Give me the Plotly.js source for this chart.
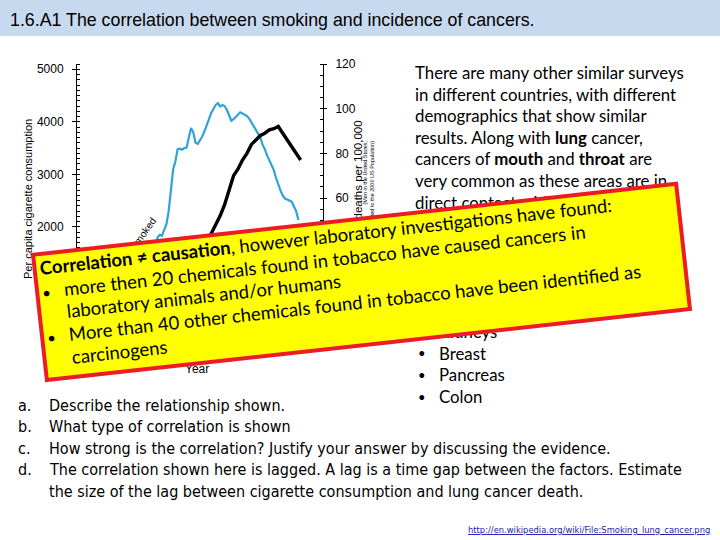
<!DOCTYPE html>
<html><head><meta charset="utf-8">
<script src="https://cdn.plot.ly/plotly-3.0.1.min.js"></script>
<style>html,body{margin:0;padding:0;background:#fff}#chart{width:720px;height:540px}</style>
</head><body><div id="chart"></div>
<script>
// ---- data ----
const cigYears = [1900,1905,1910,1915,1920,1925,1930,1935,1936,1937,1938,1939,1940,1941,1942,1943,1944,1945,1946,1947,1948,1949,1950,1951,1952,1953,1954,1955,1956,1957,1958,1959,1960,1961,1962,1963,1964,1965,1966,1967,1968,1969,1970,1971,1972,1973,1974,1975,1976,1977,1978,1979,1980,1981,1982,1983,1984,1985,1986,1987,1988,1989,1990,1991,1992,1993,1994,1995,1996,1997,1998,1999];
const cigValues = [54,70,151,285,665,1085,1485,1564,1800,1850,1830,1950,2050,2300,2700,3100,3250,3480,3490,3470,3500,3510,3700,3880,3800,3600,3580,3640,3720,3820,3920,4050,4170,4250,4320,4355,4290,4320,4300,4230,4120,4020,4050,4100,4130,4180,4160,4140,4110,4060,3990,3920,3850,3790,3700,3560,3480,3360,3260,3180,3080,2930,2800,2690,2600,2540,2520,2505,2480,2390,2300,2130];
const deathYears = [1930,1935,1940,1945,1950,1955,1960,1962,1964,1966,1968,1970,1972,1974,1976,1978,1980,1982,1984,1986,1988,1990,1992,1994,1996,1998,2000];
const deathValues = [5,8,13,19,27,36,44,48,52,57,64,70,73,77,80,84,86,88,89,90.5,91,92,89,86,83,80,77];

const leftTicks = [0,1000,2000,3000,4000,5000];
const rightTicks = [0,20,40,60,80,100,120];
const xTicks = [1900,1920,1940,1960,1980,2000];

const titleText = '1.6.A1 The correlation between smoking and incidence of cancers.';
const leftAxisTitle = 'Per capita cigarette consumption';
const rightAxisTitle = 'Lung cancer deaths per 100,000';
const rightAxisNote = '(Men in the United States,<br>Age-adjusted to the 2000 US Population)';
const xAxisTitle = 'Year';
const cigLabel = 'Cigarettes smoked';

const rightLines = [
  'There are many other similar surveys',
  'in different countries, with different',
  'demographics that show similar',
  'results. Along with <b>lung</b> cancer,',
  'cancers of <b>mouth</b> and <b>throat</b> are',
  'very common as these areas are in',
  'direct contact with the smoke.',
  'Smoking has also been linked to',
  'other types of cancer, including:',
  '• Stomach',
  '• Liver',
  '• Bladder',
  '• Kidneys',
  '• Breast',
  '• Pancreas',
  '• Colon'
];

const qLetters = ['a.','b.','c.','d.',''];
const qLines = [
  'Describe the relationship shown.',
  'What type of correlation is shown',
  'How strong is the correlation? Justify your answer by discussing the evidence.',
  'The correlation shown here is lagged. A lag is a time gap between the factors. Estimate',
  'the size of the lag between cigarette consumption and lung cancer death.'
];

const boxBullets = ['', '•', '', '•', ''];
const boxLines = [
  '<b>Correlation ≠ causation</b>, however laboratory investigations have found:',
  'more then 20 chemicals found in tobacco have caused cancers in',
  'laboratory animals and/or humans',
  'More than 40 other chemicals found in tobacco have been identified as',
  'carcinogens'
];

const urlText = 'http://en.wikipedia.org/wiki/File:Smoking_lung_cancer.png';

// ---- helpers (pixel -> paper) ----
const W = 720, H = 540;
function P(px, py) { return {x: px / W, y: 1 - py / H, xref: 'paper', yref: 'paper'}; }
function ann(px, py, text, opts) {
  return Object.assign(P(px, py), {text: text, showarrow: false, xanchor: 'center', yanchor: 'middle'}, opts || {});
}

const chartFont = 'Liberation Sans, Arial, sans-serif';
const slideFont = 'Lato, Carlito, Calibri, sans-serif';
const narrowFont = 'Liberation Sans Narrow, DejaVu Sans Condensed, Lato, sans-serif';

const plotLeft = 77, plotRight = 323, plotTop = 64, plotBottom = 332;

const traces = [
  {x: cigYears, y: cigValues, type: 'scatter', mode: 'lines', line: {color: '#2FA3D8', width: 2.2}, yaxis: 'y', hoverinfo: 'skip'},
  {x: deathYears, y: deathValues, type: 'scatter', mode: 'lines', line: {color: '#000000', width: 3.4}, yaxis: 'y2', hoverinfo: 'skip'}
];

const annotations = [];
annotations.push(ann(8, 20, titleText, {xanchor: 'left', font: {family: chartFont, size: 17.8, color: '#000'}}));
annotations.push(ann(28, 199, leftAxisTitle, {textangle: -90, font: {family: chartFont, size: 11, color: '#000'}}));
annotations.push(ann(358, 118, rightAxisTitle, {textangle: -90, yanchor: 'top', font: {family: chartFont, size: 11.5, color: '#000'}}));
annotations.push(ann(368, 139, rightAxisNote, {textangle: -90, yanchor: 'top', align: 'right', font: {family: chartFont, size: 5.5, color: '#000'}}));
annotations.push(ann(197, 369, xAxisTitle, {font: {family: chartFont, size: 12, color: '#000'}}));
annotations.push(ann(129, 253, cigLabel, {textangle: -55, font: {family: chartFont, size: 10, color: '#000'}}));

// right column text
const rcFont = {family: slideFont, size: 16.8, color: '#000'};
const rcBulletFont = {family: slideFont, size: 13, color: '#000'};
rightLines.forEach(function (t, i) {
  const y = 72.5 + i * 21.6;
  if (t.indexOf('• ') === 0) {
    annotations.push(ann(416, y, '•', {xanchor: 'left', font: rcBulletFont}));
    annotations.push(ann(437, y, t.slice(2), {xanchor: 'left', font: rcFont}));
  } else {
    annotations.push(ann(413, y, t, {xanchor: 'left', font: rcFont}));
  }
});

// questions
const qFont = {family: narrowFont, size: 16, color: '#000'};
qLines.forEach(function (t, i) {
  const y = 405 + i * 21.5;
  if (qLetters[i]) annotations.push(ann(16, y, qLetters[i], {xanchor: 'left', font: qFont}));
  annotations.push(ann(47, y, t, {xanchor: 'left', font: qFont}));
});

annotations.push(ann(712, 529, '<u>' + urlText + '</u>', {xanchor: 'right', font: {family: narrowFont, size: 9.3, color: '#1A1AA8'}}));

// rotated yellow box
const ang = 6.3, th = ang * Math.PI / 180, bcx = 361, bcy = 282;
function rot(lx, ly) { return [bcx + lx * Math.cos(th) + ly * Math.sin(th), bcy - lx * Math.sin(th) + ly * Math.cos(th)]; }
let c = rot(0, 0);
annotations.push(ann(c[0], c[1], '\u00a0', {textangle: -ang, width: 643, height: 122, bgcolor: '#FFFF00', bordercolor: '#EC1C24', borderwidth: 4, borderpad: 0}));
const lineY = [-49, -26, -3, 20, 43];
const boxFont = {family: slideFont, size: 18.5, color: '#000'};
const boxBulletFont = {family: slideFont, size: 15, color: '#000'};
boxLines.forEach(function (t, i) {
  const left = (i === 0) ? -318 : -296;
  const tw = 620;
  const p = rot(left + tw / 2, lineY[i]);
  annotations.push(ann(p[0], p[1], t, {textangle: -ang, width: tw, align: 'left', borderpad: 0, borderwidth: 0, font: boxFont}));
  if (boxBullets[i]) {
    const b = rot(-314, lineY[i] + 1);
    annotations.push(ann(b[0], b[1], boxBullets[i], {textangle: -ang, font: boxBulletFont}));
  }
});

const layout = {
  width: 720, height: 540,
  margin: {l: 0, r: 0, t: 0, b: 0},
  paper_bgcolor: '#ffffff', plot_bgcolor: '#ffffff',
  showlegend: false,
  xaxis: {
    domain: [plotLeft / W, plotRight / W], range: [1900, 2010],
    showline: true, linecolor: '#000', linewidth: 1, showgrid: false, zeroline: false,
    tickvals: xTicks, ticks: 'outside', ticklen: 4, tickcolor: '#000',
    tickfont: {family: chartFont, size: 12, color: '#000'}
  },
  yaxis: {
    domain: [1 - plotBottom / H, 1 - plotTop / H], range: [0, 5100],
    showline: true, linecolor: '#000', linewidth: 1, showgrid: false, zeroline: false,
    tickvals: leftTicks, ticks: 'outside', ticklen: 4, tickcolor: '#000', ticklabelstandoff: 6,
    minor: {dtick: 100, ticks: 'inside', ticklen: 3, tickcolor: '#000', showgrid: false},
    tickfont: {family: chartFont, size: 12, color: '#000'}
  },
  yaxis2: {
    overlaying: 'y', side: 'right', anchor: 'x', range: [0, 120],
    showline: true, linecolor: '#000', linewidth: 1, showgrid: false, zeroline: false,
    tickvals: rightTicks, ticks: 'outside', ticklen: 3, tickcolor: '#000', ticklabelstandoff: 6,
    minor: {dtick: 5, ticks: 'inside', ticklen: 3, tickcolor: '#000', showgrid: false},
    tickfont: {family: chartFont, size: 12, color: '#000'}
  },
  shapes: [
    {type: 'rect', xref: 'paper', yref: 'paper', x0: 0, x1: 1, y0: 1 - 36 / H, y1: 1, fillcolor: '#C6D9EE', line: {width: 0}, layer: 'below'}
  ],
  annotations: annotations
};

Plotly.newPlot('chart', traces, layout, {staticPlot: true, displayModeBar: false});
</script>
</body></html>
